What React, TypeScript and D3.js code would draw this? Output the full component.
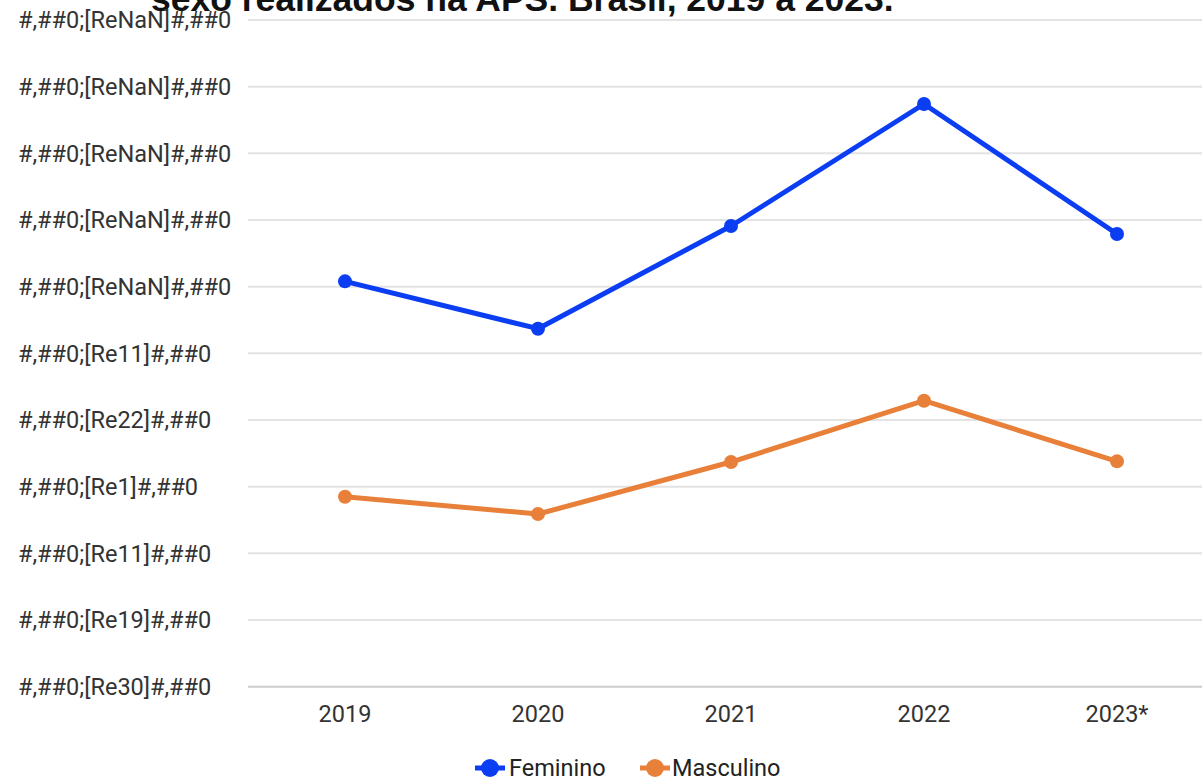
import React from "react";
import * as d3 from "d3";

const years = ["2019", "2020", "2021", "2022", "2023*"];
const feminino = [608, 537, 691, 874, 679];
const masculino = [285, 259, 337, 429, 338];
const yTickValues = [0, 100, 200, 300, 400, 500, 600, 700, 800, 900, 1000];
const yTickLabels = [
  "#,##0;[Re30]#,##0",
  "#,##0;[Re19]#,##0",
  "#,##0;[Re11]#,##0",
  "#,##0;[Re1]#,##0",
  "#,##0;[Re22]#,##0",
  "#,##0;[Re11]#,##0",
  "#,##0;[ReNaN]#,##0",
  "#,##0;[ReNaN]#,##0",
  "#,##0;[ReNaN]#,##0",
  "#,##0;[ReNaN]#,##0",
  "#,##0;[ReNaN]#,##0",
];
const titleText = "sexo realizados na APS. Brasil, 2019 a 2023.";
const seriesNames = ["Feminino", "Masculino"];
const colors = ["#0b3ef2", "#e8803a"];

export default function App() {
  const W = 1202;
  const H = 779;
  const plotLeft = 248;
  const x = d3.scaleBand<string>().domain(years).range([248.5, 1213.5]);
  const cx = (d: string) => (x(d) as number) + x.bandwidth() / 2;
  const y = d3.scaleLinear().domain([0, 1000]).range([686.7, 20]);
  const line = d3
    .line<number>()
    .x((_, i) => cx(years[i]))
    .y((d) => y(d));
  const series = [feminino, masculino];
  const font = "Roboto, sans-serif";
  const fs = 23.5;

  const legendItems = [
    { x: 490, textX: 509 },
    { x: 655, textX: 672 },
  ];

  return (
    <svg
      width={W}
      height={H}
      style={{ position: "fixed", left: 0, top: 0, background: "#fff" }}
    >
      <rect width={W} height={H} fill="#fff" />
      {yTickValues.map((v, i) => (
        <line
          key={i}
          x1={plotLeft}
          x2={W}
          y1={y(v)}
          y2={y(v)}
          stroke={i === 0 ? "#cccccc" : "#e3e3e3"}
          strokeWidth={2}
        />
      ))}
      <text
        x={151}
        y={11}
        fontFamily="'Liberation Sans', Arial, sans-serif"
        fontWeight="bold"
        fontSize={35.5}
        fill="#111"
      >
        {titleText}
      </text>
      {yTickValues.map((v, i) => (
        <text
          key={i}
          x={18}
          y={y(v)}
          dy="0.35em"
          fontFamily={font}
          fontSize={fs}
          fill="#333"
        >
          {yTickLabels[i]}
        </text>
      ))}
      {years.map((yr) => (
        <text
          key={yr}
          x={cx(yr)}
          y={714}
          dy="0.35em"
          textAnchor="middle"
          fontFamily={font}
          fontSize={fs}
          fill="#333"
        >
          {yr}
        </text>
      ))}
      {series.map((s, si) => (
        <g key={si}>
          <path
            d={line(s) as string}
            fill="none"
            stroke={colors[si]}
            strokeWidth={5}
            strokeLinejoin="round"
          />
          {s.map((v, i) => (
            <circle key={i} cx={cx(years[i])} cy={y(v)} r={7} fill={colors[si]} />
          ))}
        </g>
      ))}
      {seriesNames.map((name, si) => (
        <g key={name}>
          <line
            x1={legendItems[si].x - 15}
            x2={legendItems[si].x + 15}
            y1={768}
            y2={768}
            stroke={colors[si]}
            strokeWidth={5}
          />
          <circle cx={legendItems[si].x} cy={768} r={9} fill={colors[si]} />
          <text
            x={legendItems[si].textX}
            y={768}
            dy="0.35em"
            fontFamily={font}
            fontSize={fs}
            fill="#222"
          >
            {name}
          </text>
        </g>
      ))}
    </svg>
  );
}
